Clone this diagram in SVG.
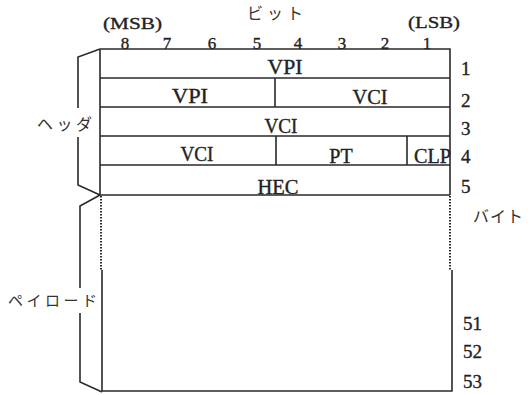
<svg xmlns="http://www.w3.org/2000/svg" width="532" height="395" viewBox="0 0 532 395">
<style>
.ln{stroke:#2a2a2a;stroke-width:1.6;fill:none}
.dot{stroke:#2a2a2a;stroke-width:2;fill:none;stroke-dasharray:1.6 1.4}
.t{font-family:"Liberation Serif","Times New Roman",serif;fill:#222;stroke:#222;stroke-width:0.35}
.f{font-size:20px}
.n{font-size:19px}
.b{font-size:17px}
.j{font-family:"Noto Sans CJK JP","Noto Sans",sans-serif;fill:#333}
</style>
<rect width="532" height="395" fill="#fff"/>
<g id="title">
<text class="j" x="247" y="19" font-size="16" textLength="56">ビット</text>
<text class="t b" x="103" y="29" textLength="59" lengthAdjust="spacingAndGlyphs">(MSB)</text>
<text class="t b" x="408" y="28" textLength="52" lengthAdjust="spacingAndGlyphs">(LSB)</text>
<g class="t b" text-anchor="middle">
<text x="125" y="49">8</text><text x="167" y="49">7</text><text x="212" y="49">6</text><text x="257" y="49">5</text>
<text x="298" y="49">4</text><text x="342" y="49">3</text><text x="385" y="49">2</text><text x="427" y="49">1</text>
</g>
</g>
<g id="connectors">
<path class="ln" d="M100,49H450V195M100,49V195"/>
<path class="ln" d="M100,78H450M100,107H450M100,136H450M100,165H450M100,195H450"/>
<path class="ln" d="M275,78V107M276,136V165M407,136V165"/>
<path class="dot" d="M101,196V270M450,196V270"/>
<path class="ln" d="M102,270V391H452V270"/>
<path class="ln" d="M100,49L78,57V108M78,137V185L100,195"/>
<path class="ln" d="M100,195L80,206V288M80,313V382L102,392"/>
</g>
<g id="row1"><text class="t f" x="285" y="74" text-anchor="middle" textLength="35" lengthAdjust="spacingAndGlyphs">VPI</text></g>
<g id="row2"><text class="t f" x="190" y="103" text-anchor="middle" textLength="36" lengthAdjust="spacingAndGlyphs">VPI</text><text class="t f" x="370" y="104" text-anchor="middle" textLength="35" lengthAdjust="spacingAndGlyphs">VCI</text></g>
<g id="row3"><text class="t f" x="281" y="133" text-anchor="middle" textLength="33" lengthAdjust="spacingAndGlyphs">VCI</text></g>
<g id="row4"><text class="t f" x="197" y="161" text-anchor="middle" textLength="33" lengthAdjust="spacingAndGlyphs">VCI</text><text class="t f" x="341" y="163" text-anchor="middle">PT</text><text class="t f" x="414" y="163" textLength="37" lengthAdjust="spacingAndGlyphs">CLP</text></g>
<g id="row5"><text class="t f" x="278" y="194" text-anchor="middle" textLength="41" lengthAdjust="spacingAndGlyphs">HEC</text></g>
<g id="bytes" class="t n">
<text x="461" y="75">1</text><text x="461" y="107">2</text><text x="461" y="135">3</text><text x="461" y="163">4</text><text x="461" y="193">5</text>
<text x="463" y="330">51</text><text x="463" y="358">52</text><text x="463" y="388">53</text>
</g>
<g id="labels">
<text class="j" x="473" y="222" font-size="16" textLength="50">バイト</text>
<text class="j" x="37" y="130" font-size="16" textLength="55">ヘッダ</text>
<text class="j" x="8" y="306" font-size="15" textLength="89">ペイロード</text>
</g>
</svg>
